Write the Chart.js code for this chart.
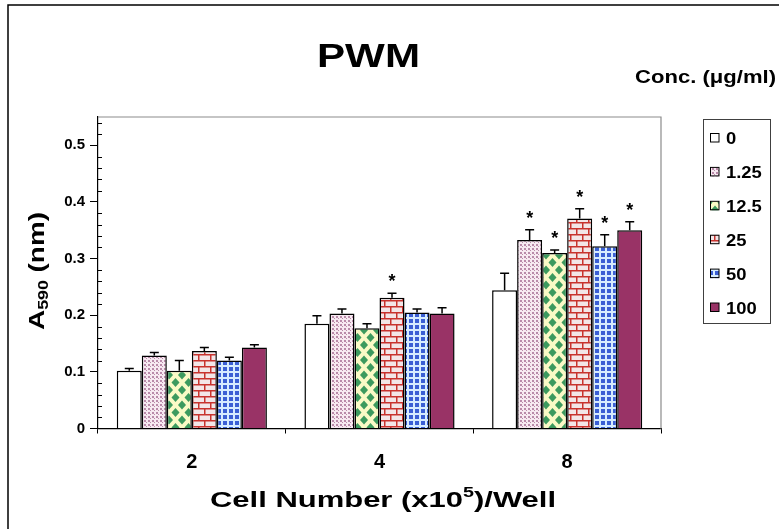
<!DOCTYPE html>
<html>
<head>
<meta charset="utf-8">
<script src="https://cdn.jsdelivr.net/npm/chart.js@4.4.0/dist/chart.umd.min.js"></script>
<style>
  html, body { margin: 0; padding: 0; background: #fff; }
</style>
</head>
<body>
<canvas id="pwmChart" width="779" height="529"></canvas>
<script>
// cell numbers (x10^5 / well)
const categories = ['2', '4', '8'];
const concLabels = ['0', '1.25', '12.5', '25', '50', '100'];

// mean A590 per concentration, one value per cell number
const conc0    = [0.102, 0.185, 0.244];
const conc1_25 = [0.129, 0.203, 0.333];
const conc12_5 = [0.102, 0.177, 0.310];
const conc25   = [0.137, 0.231, 0.371];
const conc50   = [0.120, 0.205, 0.322];
const conc100  = [0.143, 0.203, 0.350];

// upper error (SD)
const err0    = [0.004, 0.014, 0.030];
const err1_25 = [0.005, 0.008, 0.018];
const err12_5 = [0.018, 0.008, 0.005];
const err25   = [0.006, 0.008, 0.017];
const err50   = [0.006, 0.006, 0.020];
const err100  = [0.005, 0.010, 0.015];

// significance marks
const star0    = [false, false, false];
const star1_25 = [false, false, true];
const star12_5 = [false, false, true];
const star25   = [false, true, true];
const star50   = [false, false, true];
const star100  = [false, false, true];

const yTicks = [0, 0.1, 0.2, 0.3, 0.4, 0.5];

const FONT = '"Liberation Sans", Arial, sans-serif';

// --- fill patterns ---
function makeTile(w, h, draw) {
    const c = document.createElement('canvas');
    c.width = w; c.height = h;
    const g = c.getContext('2d');
    draw(g);
    return c.getContext('2d').createPattern(c, 'repeat');
}

const dotPattern = makeTile(4, 4, g => {
    g.fillStyle = '#f7e9f1'; g.fillRect(0, 0, 4, 4);
    g.fillStyle = '#b98aa9';
    g.fillRect(0, 0, 2, 2);
    g.fillRect(2, 2, 1, 1);
});

const diamondPattern = makeTile(13, 15, g => {
    g.fillStyle = '#fafac6'; g.fillRect(0, 0, 13, 15);
    g.fillStyle = '#3c9a5e';
    const dia = (cx, cy) => {
        g.beginPath();
        g.moveTo(cx, cy - 4.5); g.lineTo(cx + 4, cy); g.lineTo(cx, cy + 4.5); g.lineTo(cx - 4, cy);
        g.closePath(); g.fill();
    };
    dia(6.5, 7.5); dia(0, 0); dia(13, 0); dia(0, 15); dia(13, 15);
});

const brickPattern = makeTile(12, 12, g => {
    g.fillStyle = '#f3e6e8'; g.fillRect(0, 0, 12, 12);
    g.fillStyle = '#c8332e';
    g.fillRect(0, 0, 12, 1.5);
    g.fillRect(0, 6, 12, 1.5);
    g.fillRect(0, 0, 1.5, 6);
    g.fillRect(6, 6, 1.5, 6);
});

const gridPattern = makeTile(6, 6, g => {
    g.fillStyle = '#d6ecff'; g.fillRect(0, 0, 6, 6);
    g.fillStyle = '#3a5fd4';
    g.fillRect(1, 1, 4, 4);
});

const fills = ['#ffffff', dotPattern, diamondPattern, brickPattern, gridPattern, '#993366'];
const seriesValues = [conc0, conc1_25, conc12_5, conc25, conc50, conc100];
const seriesErrors = [err0, err1_25, err12_5, err25, err50, err100];
const seriesStars  = [star0, star1_25, star12_5, star25, star50, star100];

// draw text segments (sub/superscripts), squeezed/stretched to a target width
function drawRich(ctx, segs, x, y, targetW) {
    let total = 0;
    segs.forEach(s => {
        ctx.font = 'bold ' + s.size + 'px ' + FONT;
        s.w = ctx.measureText(s.t).width;
        total += s.w;
    });
    const k = targetW ? targetW / total : 1;
    ctx.save();
    ctx.translate(x, y);
    ctx.scale(k, 1);
    let cx = 0;
    segs.forEach(s => {
        ctx.font = 'bold ' + s.size + 'px ' + FONT;
        ctx.fillText(s.t, cx, s.dy || 0);
        cx += s.w;
    });
    ctx.restore();
}

const decorPlugin = {
    id: 'decor',
    beforeDraw(chart) {
        const ctx = chart.ctx;
        ctx.save();
        ctx.fillStyle = '#fff';
        ctx.fillRect(0, 0, chart.width, chart.height);
        // outer frame (top and left visible)
        ctx.strokeStyle = '#000';
        ctx.lineWidth = 1.5;
        ctx.beginPath();
        ctx.moveTo(8, chart.height);
        ctx.lineTo(8, 5);
        ctx.lineTo(chart.width, 5);
        ctx.stroke();
        ctx.restore();
    },
    afterDatasetsDraw(chart) {
        const ctx = chart.ctx;
        const y = chart.scales.y;
        ctx.save();
        ctx.strokeStyle = '#000';
        ctx.lineWidth = 1.5;
        seriesValues.forEach((vals, i) => {
            const meta = chart.getDatasetMeta(i);
            meta.data.forEach((bar, j) => {
                const top = y.getPixelForValue(vals[j]);
                const up = y.getPixelForValue(vals[j] + seriesErrors[i][j]);
                ctx.beginPath();
                ctx.moveTo(bar.x, top);
                ctx.lineTo(bar.x, up);
                ctx.moveTo(bar.x - 4.5, up);
                ctx.lineTo(bar.x + 4.5, up);
                ctx.stroke();
                if (seriesStars[i][j]) {
                    ctx.fillStyle = '#000';
                    ctx.font = 'bold 18px ' + FONT;
                    ctx.textAlign = 'center';
                    ctx.textBaseline = 'middle';
                    ctx.fillText('*', bar.x, up - 11);
                }
            });
        });
        ctx.restore();
    },
    afterDraw(chart) {
        const ctx = chart.ctx;
        const a = chart.chartArea;
        const y = chart.scales.y;
        ctx.save();
        // plot border top/right
        ctx.strokeStyle = '#8c8c8c';
        ctx.lineWidth = 1.2;
        ctx.beginPath();
        ctx.moveTo(a.left, a.top);
        ctx.lineTo(a.right, a.top);
        ctx.lineTo(a.right, a.bottom);
        ctx.stroke();
        // minor ticks on y axis
        ctx.strokeStyle = '#000';
        ctx.lineWidth = 1;
        for (let k = 1; k <= 27; k++) {
            if (k % 5 === 0) continue;
            const py = Math.round(y.getPixelForValue(k * 0.02)) + 0.5;
            ctx.beginPath();
            ctx.moveTo(a.left, py);
            ctx.lineTo(a.left + 4, py);
            ctx.stroke();
        }

        ctx.fillStyle = '#000';
        ctx.textAlign = 'left';
        ctx.textBaseline = 'alphabetic';
        // main title
        drawRich(ctx, [{ t: 'PWM', size: 33 }], 317, 67, 103);
        // legend heading
        drawRich(ctx, [{ t: 'Conc. (\u03bcg/ml)', size: 18 }], 635, 83, 141);
        // x axis title
        drawRich(ctx, [
            { t: 'Cell Number (x10', size: 22 },
            { t: '5', size: 14, dy: -10 },
            { t: ')/Well', size: 22 }
        ], 210, 507, 346);
        // y axis title (rotated)
        ctx.save();
        ctx.translate(44, 271);
        ctx.rotate(-Math.PI / 2);
        drawRich(ctx, [
            { t: 'A', size: 22 },
            { t: '590', size: 14, dy: 4 },
            { t: ' (nm)', size: 22 }
        ], -59, 0, 118);
        ctx.restore();

        // legend box
        ctx.strokeStyle = '#404040';
        ctx.lineWidth = 1;
        ctx.strokeRect(703.5, 119.5, 67, 204);
        concLabels.forEach((lab, i) => {
            const cy = 138 + i * 33.9;
            ctx.fillStyle = fills[i];
            ctx.fillRect(710, cy - 4.5, 9, 9);
            ctx.strokeStyle = '#000';
            ctx.lineWidth = 1;
            ctx.strokeRect(710.5, cy - 4.5, 8.5, 8.5);
            ctx.fillStyle = '#000';
            ctx.font = 'bold 16px ' + FONT;
            const w = ctx.measureText(lab).width;
            drawRich(ctx, [{ t: lab, size: 16 }], 726, cy + 6, w * 1.15);
        });
        ctx.restore();
    }
};

const ctx = document.getElementById('pwmChart').getContext('2d');
new Chart(ctx, {
    type: 'bar',
    data: {
        labels: categories,
        datasets: seriesValues.map((vals, i) => ({
            label: concLabels[i],
            data: vals,
            backgroundColor: fills[i],
            borderColor: '#000',
            borderWidth: 1.5,
            categoryPercentage: 0.8,
            barPercentage: 1.0
        }))
    },
    options: {
        responsive: false,
        animation: false,
        devicePixelRatio: 1,
        layout: { padding: { top: 117, right: 118, left: 0, bottom: 0 } },
        plugins: {
            legend: { display: false },
            title: { display: false },
            tooltip: { enabled: false }
        },
        scales: {
            x: {
                afterFit: scale => { scale.height = 100.5; },
                grid: {
                    offset: true,
                    drawOnChartArea: false,
                    tickLength: 5,
                    color: '#000'
                },
                border: { color: '#000', width: 1.2 },
                ticks: {
                    color: '#000',
                    padding: 17,
                    font: { family: FONT, size: 20, weight: 'bold' }
                }
            },
            y: {
                min: 0,
                max: 0.55,
                afterFit: scale => { scale.width = 98; },
                afterBuildTicks: scale => {
                    scale.ticks = yTicks.map(v => ({ value: v }));
                },
                grid: {
                    drawOnChartArea: false,
                    tickLength: 8,
                    color: '#000'
                },
                border: { color: '#000', width: 1.2 },
                ticks: {
                    color: '#000',
                    padding: 5,
                    font: { family: FONT, size: 15, weight: 'bold' },
                    callback: v => (v === 0 ? '0' : v.toFixed(1))
                }
            }
        }
    },
    plugins: [decorPlugin]
});
</script>
</body>
</html>
